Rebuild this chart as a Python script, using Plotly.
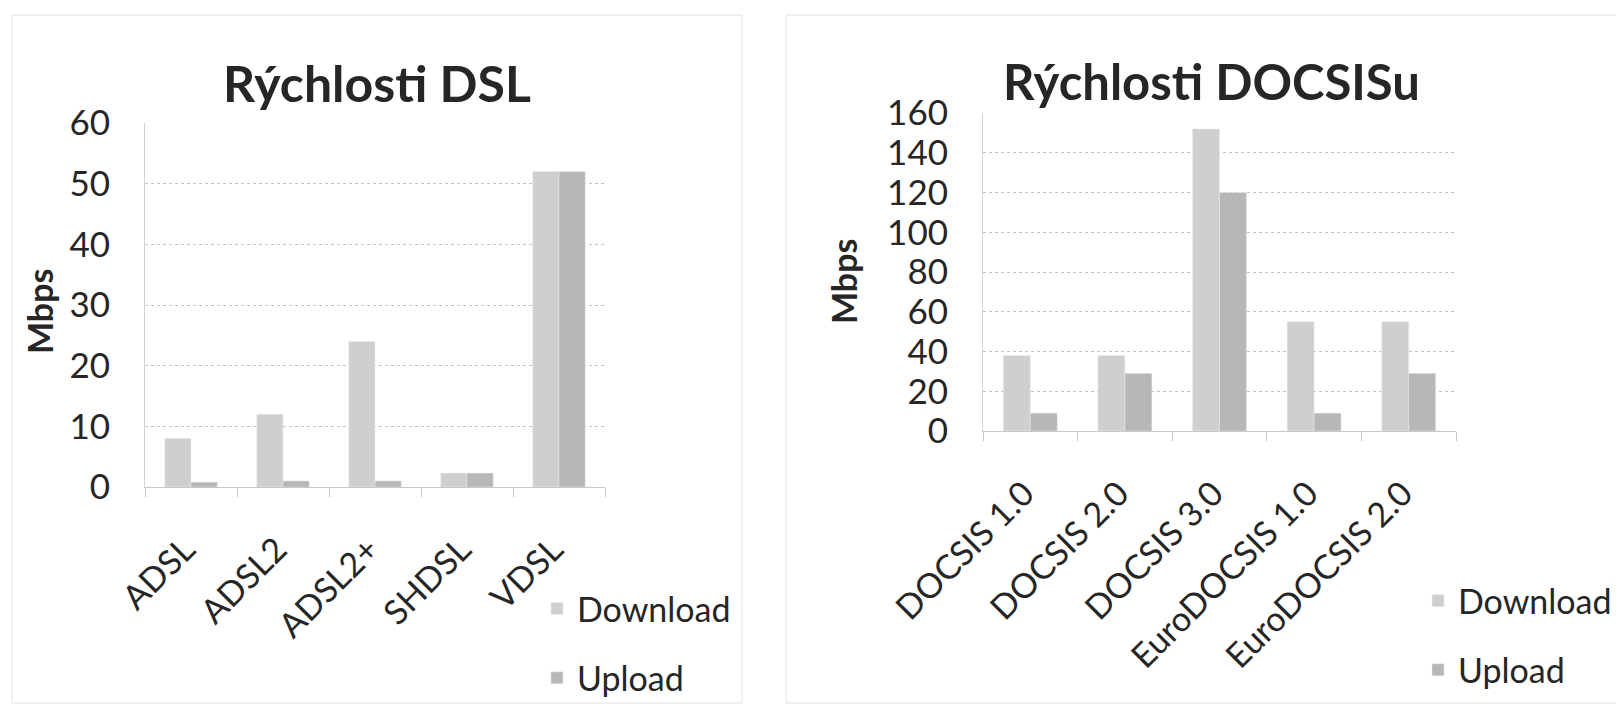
import plotly.graph_objects as go

W, H = 1616, 704

dsl_categories = ["ADSL", "ADSL2", "ADSL2+", "SHDSL", "VDSL"]
dsl_download = [8, 12, 24, 2.3, 52]
dsl_upload = [0.8, 1, 1, 2.3, 52]

docsis_categories = ["DOCSIS 1.0", "DOCSIS 2.0", "DOCSIS 3.0", "EuroDOCSIS 1.0", "EuroDOCSIS 2.0"]
docsis_download = [38, 38, 152, 55, 55]
docsis_upload = [9, 29, 120, 9, 29]

dsl_ticks = [0, 10, 20, 30, 40, 50, 60]
docsis_ticks = [0, 20, 40, 60, 80, 100, 120, 140, 160]

FONT = "Lato"
TXT = "#262626"
C_DOWN = "#cfcfcf"
C_UP = "#b7b7b7"

def px_x(p):
    return p / W

def px_y(p):
    return 1 - p / H

fig = go.Figure()

fig.add_trace(go.Bar(x=dsl_categories, y=dsl_download, name="Download", marker_color=C_DOWN,
                     xaxis="x", yaxis="y", legend="legend", legendgroup="d1"))
fig.add_trace(go.Bar(x=dsl_categories, y=dsl_upload, name="Upload", marker_color=C_UP,
                     xaxis="x", yaxis="y", legend="legend", legendgroup="u1"))
fig.add_trace(go.Bar(x=docsis_categories, y=docsis_download, name="Download", marker_color=C_DOWN,
                     xaxis="x2", yaxis="y2", legend="legend2", legendgroup="d2"))
fig.add_trace(go.Bar(x=docsis_categories, y=docsis_upload, name="Upload", marker_color=C_UP,
                     xaxis="x2", yaxis="y2", legend="legend2", legendgroup="u2"))

xcommon = dict(type="category", showline=True, linecolor="#c8c8c8", linewidth=1,
               ticks="outside", tickson="boundaries", ticklen=9, tickcolor="#c8c8c8",
               tickangle=-45, ticklabelstandoff=28, ticklabelshift=-6, showgrid=False,
               automargin=False,
               tickfont=dict(family=FONT, size=34, color=TXT), fixedrange=True)
ycommon = dict(showline=True, linecolor="#d2d2d2", linewidth=1, showgrid=True,
               gridcolor="#c4c4c4", griddash="dot", gridwidth=1, zeroline=False,
               ticks="", ticklabelstandoff=27, automargin=False,
               tickfont=dict(family=FONT, size=35, color=TXT), fixedrange=True)

fig.update_layout(
    width=W, height=H,
    margin=dict(l=0, r=0, t=0, b=0, pad=0, autoexpand=False),
    paper_bgcolor="white", plot_bgcolor="white",
    barmode="group", bargap=0.43, bargroupgap=0,
    showlegend=True,
    xaxis=dict(domain=[px_x(145), px_x(605)], anchor="y", **xcommon),
    yaxis=dict(domain=[px_y(487), px_y(123)], anchor="x", range=[0, 60],
               tickvals=dsl_ticks, **ycommon),
    xaxis2=dict(domain=[px_x(983), px_x(1456)], anchor="y2", **xcommon),
    yaxis2=dict(domain=[px_y(431), px_y(113)], anchor="x2", range=[0, 160],
                tickvals=docsis_ticks, **ycommon),
    legend=dict(x=px_x(537), y=px_y(580), xanchor="left", yanchor="top",
                font=dict(family=FONT, size=34, color=TXT), tracegroupgap=22,
                bgcolor="rgba(0,0,0,0)", itemclick=False),
    legend2=dict(x=px_x(1418), y=px_y(572), xanchor="left", yanchor="top",
                 font=dict(family=FONT, size=34, color=TXT), tracegroupgap=22,
                 bgcolor="rgba(0,0,0,0)", itemclick=False),
)

# chart titles
fig.add_annotation(text="<b>Rýchlosti DSL</b>", x=px_x(377), y=px_y(83), xref="paper", yref="paper",
                   showarrow=False, xanchor="center", yanchor="middle",
                   font=dict(family=FONT, size=50, color=TXT))
fig.add_annotation(text="<b>Rýchlosti DOCSISu</b>", x=px_x(1211), y=px_y(81), xref="paper", yref="paper",
                   showarrow=False, xanchor="center", yanchor="middle",
                   font=dict(family=FONT, size=49, color=TXT))
# axis titles
fig.add_annotation(text="<b>Mbps</b>", x=px_x(40), y=px_y(312), xref="paper", yref="paper",
                   showarrow=False, xanchor="center", yanchor="middle", textangle=-90,
                   font=dict(family=FONT, size=34, color=TXT))
fig.add_annotation(text="<b>Mbps</b>", x=px_x(843), y=px_y(281), xref="paper", yref="paper",
                   showarrow=False, xanchor="center", yanchor="middle", textangle=-90,
                   font=dict(family=FONT, size=34, color=TXT))

# faint chart frames
frame = dict(color="#e2e2e2", width=1)
fig.add_shape(type="rect", xref="paper", yref="paper", x0=px_x(12), x1=px_x(742),
              y0=px_y(703), y1=px_y(15), line=frame)
fig.add_shape(type="rect", xref="paper", yref="paper", x0=px_x(786), x1=px_x(1620),
              y0=px_y(703), y1=px_y(15), line=frame)

fig.write_html("out.html",
               config={"displayModeBar": False, "staticPlot": True},
               post_script="document.body.style.margin='0';document.body.style.overflow='hidden';")
